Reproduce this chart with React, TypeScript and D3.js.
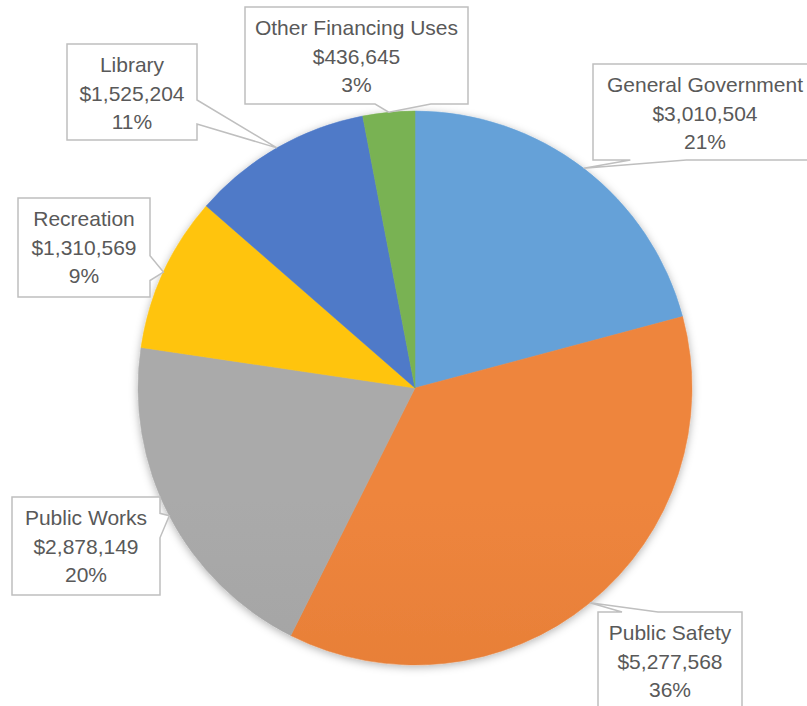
import React from "react";
import * as d3 from "d3";

const categories = [
  "General Government",
  "Public Safety",
  "Public Works",
  "Recreation",
  "Library",
  "Other Financing Uses",
];
const values = [3010504, 5277568, 2878149, 1310569, 1525204, 436645];
const percentLabels = [21, 36, 20, 9, 11, 3];
const colors = ["#5B9BD5", "#ED7D31", "#A5A5A5", "#FFC000", "#4472C4", "#70AD47"];

// callout box layout (x, y, w, h) per category
const boxes = [
  { x: 593, y: 64, w: 224, h: 96 },
  { x: 598, y: 612, w: 144, h: 98 },
  { x: 12, y: 497, w: 148, h: 98 },
  { x: 18, y: 198, w: 132, h: 99 },
  { x: 67, y: 44, w: 130, h: 96 },
  { x: 245, y: 7, w: 223, h: 97 },
];

const W = 807;
const H = 706;
const CX = 415;
const CY = 388;
const R = 277;

function calloutPath(b: { x: number; y: number; w: number; h: number }, tx: number, ty: number) {
  const cx = b.x + b.w / 2;
  const cy = b.y + b.h / 2;
  const dx = (tx - cx) / b.w;
  const dy = (ty - cy) / b.h;
  const x0 = b.x, x1 = b.x + b.w, y0 = b.y, y1 = b.y + b.h;
  const p = d3.path();
  if (Math.abs(dy) >= Math.abs(dx)) {
    const [fa, fb] = dx > 0 ? [7 / 12, 10 / 12] : [2 / 12, 5 / 12];
    if (dy < 0) {
      p.moveTo(x0, y0);
      p.lineTo(x0 + fa * b.w, y0);
      p.lineTo(tx, ty);
      p.lineTo(x0 + fb * b.w, y0);
      p.lineTo(x1, y0);
      p.lineTo(x1, y1);
      p.lineTo(x0, y1);
      p.closePath();
    } else {
      p.moveTo(x0, y0);
      p.lineTo(x1, y0);
      p.lineTo(x1, y1);
      p.lineTo(x0 + fb * b.w, y1);
      p.lineTo(tx, ty);
      p.lineTo(x0 + fa * b.w, y1);
      p.lineTo(x0, y1);
      p.closePath();
    }
  } else {
    const [fa, fb] = dy > 0 ? [7 / 12, 10 / 12] : [2 / 12, 5 / 12];
    if (dx > 0) {
      p.moveTo(x0, y0);
      p.lineTo(x1, y0);
      p.lineTo(x1, y0 + fa * b.h);
      p.lineTo(tx, ty);
      p.lineTo(x1, y0 + fb * b.h);
      p.lineTo(x1, y1);
      p.lineTo(x0, y1);
      p.closePath();
    } else {
      p.moveTo(x0, y0);
      p.lineTo(x1, y0);
      p.lineTo(x1, y1);
      p.lineTo(x0, y1);
      p.lineTo(x0, y0 + fb * b.h);
      p.lineTo(tx, ty);
      p.lineTo(x0, y0 + fa * b.h);
      p.closePath();
    }
  }
  return p.toString();
}

export default function App() {
  const data = categories.map((c, i) => ({
    name: c,
    value: values[i],
    pct: percentLabels[i],
    color: colors[i],
  }));
  const pie = d3
    .pie<{ name: string; value: number; pct: number; color: string }>()
    .sort(null)
    .value((d) => d.value)
    .startAngle(0)
    .endAngle(2 * Math.PI);
  const arcs = pie(data);
  const arc = d3.arc<d3.PieArcDatum<any>>().innerRadius(0).outerRadius(R);
  const fmtMoney = d3.format(",");

  return (
    <svg
      width={W}
      height={H}
      style={{ position: "absolute", left: 0, top: 0, background: "#ffffff" }}
      fontFamily="'Liberation Sans', Arial, sans-serif"
    >
      <defs>
        {arcs.map((a, i) => {
          const base = a.data.color;
          return (
            <linearGradient
              key={i}
              id={`g${i}`}
              gradientUnits="userSpaceOnUse"
              x1={0}
              y1={CY - R}
              x2={0}
              y2={CY + R}
            >
              <stop offset="0%" stopColor={d3.interpolateRgb(base, "#ffffff")(0.06)} />
              <stop offset="100%" stopColor={d3.interpolateRgb(base, "#000000")(0.08)} />
            </linearGradient>
          );
        })}
        <filter id="shadow" x="-10%" y="-10%" width="120%" height="120%">
          <feDropShadow dx="0" dy="2" stdDeviation="4" floodColor="#000" floodOpacity="0.3" />
        </filter>
      </defs>
      <rect x={0} y={0} width={W} height={H} fill="#fff" />
      <g transform={`translate(${CX},${CY})`} filter="url(#shadow)">
        {arcs.map((a, i) => (
          <path key={i} d={arc(a) || ""} fill={`url(#g${i})`} stroke={`url(#g${i})`} strokeWidth={0.5} />
        ))}
      </g>
      {arcs.map((a, i) => {
        const mid = (a.startAngle + a.endAngle) / 2;
        const tx = CX + R * Math.sin(mid);
        const ty = CY - R * Math.cos(mid);
        const b = boxes[i];
        const cx = b.x + b.w / 2;
        return (
          <g key={i}>
            <path d={calloutPath(b, tx, ty)} fill="#fff" stroke="#BFBFBF" strokeWidth={1.5} />
            <g fill="#595959" fontSize={21} textAnchor="middle">
              <text x={cx} y={b.y + 28}>{a.data.name}</text>
              <text x={cx} y={b.y + 57}>{"$" + fmtMoney(a.data.value)}</text>
              <text x={cx} y={b.y + 85}>{a.data.pct + "%"}</text>
            </g>
          </g>
        );
      })}
    </svg>
  );
}
